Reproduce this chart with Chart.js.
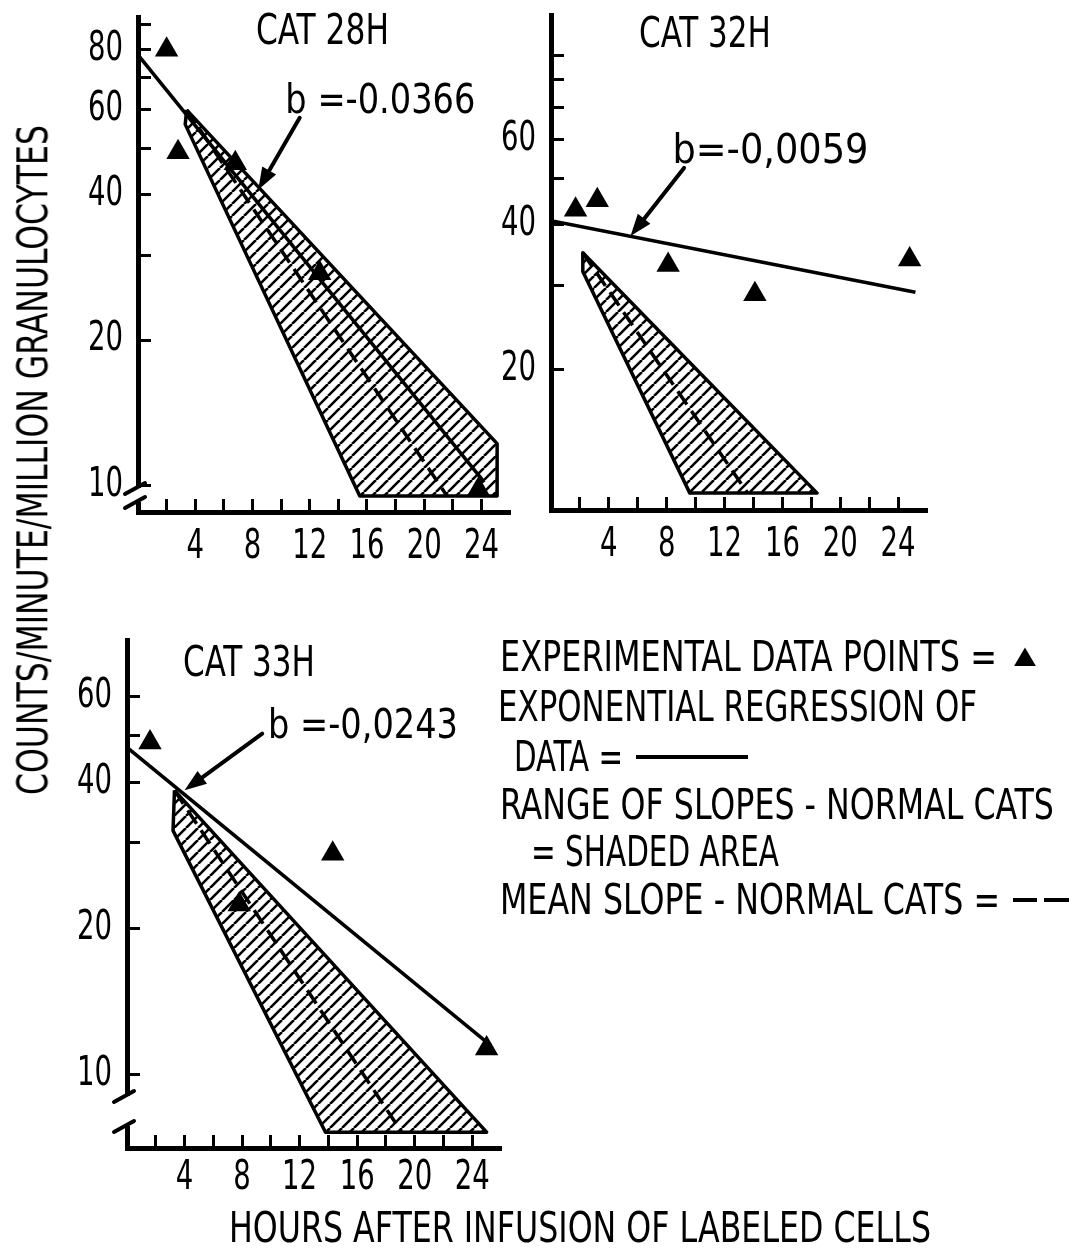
<!DOCTYPE html>
<html lang="en">
<head>
<meta charset="utf-8">
<title>Granulocyte disappearance curves – cats 28H, 32H, 33H</title>
<script src="https://cdn.jsdelivr.net/npm/chart.js@4.4.1/dist/chart.umd.min.js"></script>
<style>
  html, body { margin: 0; padding: 0; background: #fff; }
  #page { position: relative; width: 1083px; height: 1254px; overflow: hidden; background: #fff; }
  #page canvas { position: absolute; }
  .txt { position: absolute; white-space: pre; color: #000; line-height: 1; transform-origin: 0 50%; }
  .rule { position: absolute; background: #000; height: 4px; }
</style>
</head>
<body>
<div id="page">
  <canvas id="cat28" width="490" height="590" style="left:40px;top:0px"></canvas>
  <canvas id="cat32" width="490" height="590" style="left:450px;top:0px"></canvas>
  <canvas id="cat33" width="490" height="640" style="left:30px;top:600px"></canvas>
</div>
<script>
// ---------------- data ----------------
const hourTicks  = [2, 4, 6, 8, 10, 12, 14, 16, 18, 20, 22, 24];
const hourLabels = [4, 8, 12, 16, 20, 24];

// CAT 28H
const cat28Hours  = [2.0, 2.8, 6.8, 12.7, 23.8];
const cat28Counts = [80, 49, 46.5, 27.5, 9.8];
const cat28Intercept = 78;
const cat28Slope = -0.0366;          // log10 counts per hour
const cat28FitHours = [0, 24.2];
const cat28RangeHours  = [3.4, 3.3, 15.5, 25.1, 25.1, 3.4];
const cat28RangeCounts = [60, 56, 9.5, 9.5, 12.2, 60];
const cat28MeanHours  = [3.4, 21.6];
const cat28MeanCounts = [60, 9.5];
const cat28CountTicks  = [10, 20, 30, 40, 50, 60, 70, 80, 90];
const cat28CountLabels = [10, 20, 40, 60, 80];
const cat28Note = 'b =-0.0366';

// CAT 32H
const cat32Hours  = [1.7, 3.2, 8.1, 14.1, 24.8];
const cat32Counts = [43, 45, 33, 28.7, 33.9];
const cat32Intercept = 40.8;
const cat32Slope = -0.0059;
const cat32FitHours = [0, 25.2];
const cat32RangeHours  = [2.2, 2.2, 9.6, 18.4, 2.2];
const cat32RangeCounts = [35, 32, 11.1, 11.1, 35];
const cat32MeanHours  = [2.2, 13.6];
const cat32MeanCounts = [35, 11.1];
const cat32CountTicks  = [20, 30, 40, 50, 60, 70, 80, 90];
const cat32CountLabels = [20, 40, 60];
const cat32Note = 'b=-0,0059';

// CAT 33H
const cat33Hours  = [1.6, 7.8, 14.3, 25.0];
const cat33Counts = [48.3, 22.4, 28.5, 11.3];
const cat33Intercept = 47.2;
const cat33Slope = -0.0243;
const cat33FitHours = [0, 25.3];
const cat33RangeHours  = [3.3, 3.2, 13.8, 25.0, 3.3];
const cat33RangeCounts = [38.5, 31.8, 7.6, 7.6, 38.5];
const cat33MeanHours  = [3.3, 19.1];
const cat33MeanCounts = [38.5, 7.6];
const cat33CountTicks  = [10, 20, 30, 40, 50, 60];
const cat33CountLabels = [10, 20, 40, 60];
const cat33Note = 'b =-0,0243';

// ---------------- fonts ----------------
const probe = document.createElement('canvas').getContext('2d');
function textWidth(font, s) { probe.font = font; return probe.measureText(s || 'EXPERIMENTAL 0123456789').width; }
function installed(f) {
  return textWidth(`40px "${f}", monospace`) !== textWidth('40px monospace') ||
         textWidth(`40px "${f}", serif`) !== textWidth('40px serif');
}
let FAM = null, STRETCH = '';
for (const f of ['Liberation Sans Narrow', 'DejaVu Sans Condensed', 'Roboto Condensed', 'Open Sans Condensed']) {
  if (installed(f)) { FAM = `"${f}", sans-serif`; break; }
}
if (!FAM) {
  for (const f of ['Noto Sans', 'Open Sans', 'Roboto', 'DejaVu Sans']) {
    if (installed(f) && textWidth(`condensed 40px "${f}"`) < 0.93 * textWidth(`40px "${f}"`)) {
      FAM = `"${f}", sans-serif`; STRETCH = 'condensed'; break;
    }
  }
}
if (!FAM) FAM = '"Liberation Sans", sans-serif';
const fontStr = size => (STRETCH ? STRETCH + ' ' : '') + size + 'px ' + FAM;

Chart.defaults.font.family = FAM;
if (STRETCH) Chart.defaults.font.weight = STRETCH;
Chart.defaults.color = '#000';

// tick numerals are tall and narrow: about 17.5 px per digit at 40 px
const DIGIT_SQUEEZE = Math.min(1, 175 / textWidth(fontStr(40), '0123456789'));

// diagonal hatching for the normal-cat range
function makeHatch(step, width) {
  const c = document.createElement('canvas');
  c.width = c.height = step;
  const g = c.getContext('2d');
  g.strokeStyle = '#000';
  g.lineWidth = width;
  g.beginPath();
  for (const k of [-1, 0, 1]) { g.moveTo(k * step, step); g.lineTo(k * step + step, 0); }
  g.stroke();
  return g.createPattern(c, 'repeat');
}
const HATCH = makeHatch(12, 2.6);

// ---------------- plugins ----------------
// axis labels drawn horizontally condensed around their anchor point
const narrowTicks = {
  id: 'narrowTicks',
  beforeDraw(chart) {
    const plain = CanvasRenderingContext2D.prototype.fillText;
    chart.ctx.fillText = function (t, x, y) {
      this.save();
      this.translate(x, y);
      this.scale(DIGIT_SQUEEZE, 1);
      plain.call(this, t, 0, 0);
      this.restore();
    };
  },
  beforeDatasetsDraw(chart) { delete chart.ctx.fillText; }
};

function drawArrow(ctx, x1, y1, x2, y2) {
  const a = Math.atan2(y2 - y1, x2 - x1), L = 22, W = 8;
  ctx.lineWidth = 4; ctx.lineCap = 'round';
  ctx.beginPath();
  ctx.moveTo(x1, y1);
  ctx.lineTo(x2 - 0.6 * L * Math.cos(a), y2 - 0.6 * L * Math.sin(a));
  ctx.stroke();
  ctx.beginPath();
  ctx.moveTo(x2, y2);
  ctx.lineTo(x2 - L * Math.cos(a) + W * Math.sin(a), y2 - L * Math.sin(a) - W * Math.cos(a));
  ctx.lineTo(x2 - L * Math.cos(a) - W * Math.sin(a), y2 - L * Math.sin(a) + W * Math.cos(a));
  ctx.closePath();
  ctx.fill();
}

// slope label with arrow, and the broken-axis mark
const slopeNote = {
  id: 'slopeNote',
  afterDatasetsDraw(chart, _args, o) {
    const { ctx, chartArea, scales: { x, y } } = chart;
    ctx.save();
    ctx.fillStyle = '#000';
    ctx.strokeStyle = '#000';
    ctx.font = fontStr(40);
    ctx.textAlign = 'left';
    ctx.textBaseline = 'middle';
    const lx = x.getPixelForValue(o.at[0]), ly = y.getPixelForValue(o.at[1]);
    const tw = ctx.measureText(o.text).width;
    ctx.save();
    ctx.translate(lx, ly);
    ctx.scale(o.width / tw, 1);
    ctx.fillText(o.text, 0, 0);
    ctx.restore();
    drawArrow(ctx, x.getPixelForValue(o.tail[0]), y.getPixelForValue(o.tail[1]),
                   x.getPixelForValue(o.tip[0]), y.getPixelForValue(o.tip[1]));
    if (o.breakAt) {
      const ax = chartArea.left, b = chartArea.bottom;
      const [hi, lo] = o.breakAt;
      ctx.fillStyle = '#fff';
      ctx.fillRect(ax - 4, b - hi, 8, hi - lo);
      ctx.lineWidth = 4; ctx.lineCap = 'round';
      for (const off of o.breakAt) {
        ctx.beginPath();
        ctx.moveTo(ax - 13, b - off + 6);
        ctx.lineTo(ax + 7, b - off - 5);
        ctx.stroke();
      }
    }
    ctx.restore();
  }
};

// ---------------- panels ----------------
function buildPanel(p) {
  const pts = (hs, cs) => hs.map((h, i) => ({ x: h, y: cs[i] }));
  const fit = p.fitHours.map(h => ({ x: h, y: p.intercept * Math.pow(10, p.slope * h) }));
  const tickFont = { size: 40, lineHeight: 1.2 };
  return new Chart(document.getElementById(p.id), {
    type: 'scatter',
    data: {
      datasets: [
        { label: 'Experimental data points', data: pts(p.hours, p.counts),
          pointStyle: 'triangle', pointRadius: 13.5, pointBackgroundColor: '#000',
          pointBorderColor: '#000', pointBorderWidth: 0, showLine: false },
        { label: 'Exponential regression of data', data: fit, showLine: true,
          borderColor: '#000', borderWidth: 3.5, pointRadius: 0, fill: false },
        { label: 'Mean slope - normal cats', data: pts(p.meanHours, p.meanCounts), showLine: true,
          borderColor: '#000', borderWidth: 3.5, borderDash: [16, 8], pointRadius: 0, fill: false },
        { label: 'Range of slopes - normal cats', data: pts(p.rangeHours, p.rangeCounts), showLine: true,
          borderColor: '#000', borderWidth: 3.5, backgroundColor: HATCH, fill: 'shape',
          pointRadius: 0, borderJoinStyle: 'round' }
      ]
    },
    options: {
      responsive: false, animation: false, devicePixelRatio: 1, events: [],
      layout: { autoPadding: false, padding: { left: 0, top: p.padTop, right: p.padRight, bottom: 0 } },
      plugins: {
        legend: { display: false }, tooltip: { enabled: false }, title: { display: false },
        slopeNote: p.note
      },
      scales: {
        x: {
          type: 'linear', position: 'bottom', min: 0, max: 26, bounds: 'data',
          afterBuildTicks: s => { s.ticks = hourTicks.map(v => ({ value: v })); },
          afterFit: s => { s.height = p.xHeight; s.paddingLeft = 0; s.paddingRight = 0; },
          ticks: { autoSkip: false, maxRotation: 0, padding: p.xPad, color: '#000', font: tickFont,
                   callback: v => hourLabels.includes(v) ? String(v) : '' },
          grid: { drawOnChartArea: false, drawTicks: true, tickLength: -13, tickWidth: 3, tickColor: '#000' },
          border: { display: true, width: 5, color: '#000' }
        },
        y: {
          type: 'logarithmic', position: 'left', min: p.yMin, max: p.yMax, bounds: 'data',
          afterBuildTicks: s => { s.ticks = p.countTicks.map(v => ({ value: v })); },
          afterFit: s => { s.width = p.yWidth; s.paddingTop = 0; s.paddingBottom = 0; },
          ticks: { autoSkip: false, padding: 28, color: '#000', font: tickFont,
                   callback: v => p.countLabels.includes(v) ? String(v) : '' },
          grid: { drawOnChartArea: false, drawTicks: true, tickLength: -13, tickWidth: 3, tickColor: '#000' },
          border: { display: true, width: 5, color: '#000' }
        }
      }
    },
    plugins: [narrowTicks, slopeNote]
  });
}

buildPanel({
  id: 'cat28', hours: cat28Hours, counts: cat28Counts,
  intercept: cat28Intercept, slope: cat28Slope, fitHours: cat28FitHours,
  rangeHours: cat28RangeHours, rangeCounts: cat28RangeCounts,
  meanHours: cat28MeanHours, meanCounts: cat28MeanCounts,
  countTicks: cat28CountTicks, countLabels: cat28CountLabels,
  yMin: 8.8, yMax: 93.5, yWidth: 98, xHeight: 78, padTop: 17, padRight: 20, xPad: 25,
  note: { text: cat28Note, at: [10.3, 62.1], width: 190, tail: [11.3, 57.8], tip: [8.4, 41.0], breakAt: [24, 10] }
});

buildPanel({
  id: 'cat32', hours: cat32Hours, counts: cat32Counts,
  intercept: cat32Intercept, slope: cat32Slope, fitHours: cat32FitHours,
  rangeHours: cat32RangeHours, rangeCounts: cat32RangeCounts,
  meanHours: cat32MeanHours, meanCounts: cat32MeanCounts,
  countTicks: cat32CountTicks, countLabels: cat32CountLabels,
  yMin: 10.24, yMax: 109, yWidth: 101, xHeight: 80, padTop: 15, padRight: 13, xPad: 25,
  note: { text: cat32Note, at: [8.4, 56.4], width: 196, tail: [9.2, 52.5], tip: [5.5, 37.9] }
});

buildPanel({
  id: 'cat33', hours: cat33Hours, counts: cat33Counts,
  intercept: cat33Intercept, slope: cat33Slope, fitHours: cat33FitHours,
  rangeHours: cat33RangeHours, rangeCounts: cat33RangeCounts,
  meanHours: cat33MeanHours, meanCounts: cat33MeanCounts,
  countTicks: cat33CountTicks, countLabels: cat33CountLabels,
  yMin: 7.05, yMax: 78.6, yWidth: 97, xHeight: 92, padTop: 40, padRight: 19, xPad: 20,
  note: { text: cat33Note, at: [9.8, 51.9], width: 190, tail: [9.4, 50.4], tip: [4.0, 38.5], breakAt: [52, 22] }
});

// ---------------- titles, axis titles and key ----------------
const page = document.getElementById('page');
function put(text, left, cy, width, size, family) {
  const d = document.createElement('div');
  d.className = 'txt';
  d.textContent = text;
  d.style.fontFamily = family || FAM;
  d.style.fontStretch = family ? 'normal' : (STRETCH || 'normal');
  d.style.fontSize = size + 'px';
  page.appendChild(d);
  const r = d.getBoundingClientRect();
  d.style.left = left + 'px';
  d.style.top = (cy - r.height / 2) + 'px';
  if (width) d.style.transform = `scaleX(${width / r.width})`;
  return d;
}
function rule(left, cy, width) {
  const d = document.createElement('div');
  d.className = 'rule';
  d.style.left = left + 'px';
  d.style.top = (cy - 2) + 'px';
  d.style.width = width + 'px';
  page.appendChild(d);
}

put('CAT 28H', 256, 30, 133, 42);
put('CAT 32H', 639, 33, 132, 42);
put('CAT 33H', 183, 662, 132, 42);

// key
put('EXPERIMENTAL DATA POINTS =', 500, 657, 497, 42);
put('\u25B2', 1014, 655, 22, 24, '"DejaVu Sans", sans-serif');
put('EXPONENTIAL REGRESSION OF', 498, 707, 479, 42);
put('DATA =', 514, 757, 109, 42);
rule(636, 757, 112);
put('RANGE OF SLOPES - NORMAL CATS', 500, 805, 554, 42);
put('= SHADED AREA', 531, 852, 248, 42);
put('MEAN SLOPE - NORMAL CATS =', 500, 900, 500, 42);
rule(1013, 900, 24);
rule(1044, 900, 25);

// shared axis titles
put('HOURS AFTER INFUSION OF LABELED CELLS', 229, 1228, 702, 42);
const yt = put('COUNTS/MINUTE/MILLION GRANULOCYTES', 0, 0, null, 42);
const yr = yt.getBoundingClientRect();
yt.style.left = (33 - yr.width / 2) + 'px';
yt.style.top = (460 - yr.height / 2) + 'px';
yt.style.transformOrigin = '50% 50%';
yt.style.transform = `rotate(-90deg) scaleX(${670 / yr.width})`;
</script>
</body>
</html>
